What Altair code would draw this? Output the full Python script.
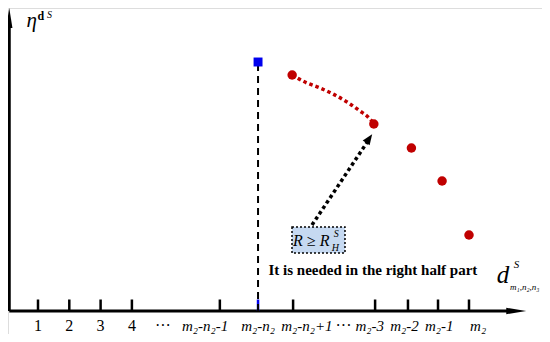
import altair as alt
import pandas as pd

# ---- data (in chart units) ----
tick_pos = [1, 2, 3, 4, 6.81, 8.03, 9.15, 11.77, 12.82, 13.78, 14.77]
tick_color = ["k", "k", "k", "k", "k", "b", "k", "k", "k", "k", "k"]

num_labels = ["1", "2", "3", "4", "···", "···"]
num_label_x = [1, 2, 3, 4, 4.99, 10.76]
m_labels = ["m₂-n₂-1", "m₂-n₂", "m₂-n₂+1", "m₂-3", "m₂-2", "m₂-1", "m₂"]
m_label_x = [6.34, 8.03, 9.59, 11.6, 12.71, 13.82, 15.06]
label_y = -2.0

blue_x = [8.03]
blue_y = [24.9]

red_x = [9.12, 11.73, 12.93, 13.91, 14.77]
red_y = [23.6, 18.7, 16.3, 13.0, 7.6]

curve_x = [9.115, 9.594, 10.010, 10.425, 10.872, 11.288, 11.543, 11.735]
curve_y = [23.6, 22.8, 22.3, 21.7, 20.9, 20.0, 19.4, 18.7]

arrow_x = [9.754, 11.52]
arrow_y = [8.6, 16.9]

box_x = [9.115, 10.808]
box_y = [8.4, 5.8]

note = "It is needed in the right half part"
note_xy = [11.70, 4.1]

XMIN, XMAX = 1 + (8 - 38) / 31.3, 1 + (542 - 38) / 31.3
YMIN, YMAX = -2.3, 30.3

xs = alt.Scale(domain=[XMIN, XMAX], nice=False, zero=False)
ys = alt.Scale(domain=[YMIN, YMAX], nice=False, zero=False)
X = lambda f="x": alt.X(f"{f}:Q", scale=xs, axis=None)
Y = lambda f="y": alt.Y(f"{f}:Q", scale=ys, axis=None)

SERIF = "Liberation Serif"
AX = XMIN + 0.04

# axes lines
axes_df = pd.DataFrame({
    "x": [AX, AX], "x2": [16.14, AX],
    "y": [0, 0], "y2": [0, 28.8],
})
axes = alt.Chart(axes_df).mark_rule(color="black", strokeWidth=3).encode(
    x=X(), x2="x2:Q", y=Y(), y2="y2:Q")

arrow_heads_df = pd.DataFrame({"x": [16.28, AX], "y": [0, 29.3], "a": [90, 0]})
heads = alt.Chart(arrow_heads_df).mark_point(
    shape="M-0.32,1L0,-1L0.32,1Z", filled=True, color="black", opacity=1, size=400
).encode(x=X(), y=Y(), angle=alt.Angle("a:Q", scale=None))

# ticks
ticks_df = pd.DataFrame({"x": tick_pos, "c": tick_color, "y": 0, "y2": 1.15})
ticks = alt.Chart(ticks_df).mark_rule(strokeWidth=2.5).encode(
    x=X(), y=Y(), y2="y2:Q",
    color=alt.Color("c:N", scale=alt.Scale(domain=["k", "b"], range=["black", "#0000EE"]), legend=None))

nl_df = pd.DataFrame({"x": num_label_x, "y": label_y, "t": num_labels})
nlab = alt.Chart(nl_df).mark_text(font=SERIF, fontSize=16, baseline="alphabetic", color="black").encode(
    x=X(), y=Y(), text="t:N")
ml_df = pd.DataFrame({"x": m_label_x, "y": label_y, "t": m_labels})
mlab = alt.Chart(ml_df).mark_text(font=SERIF, fontSize=15, fontStyle="italic", baseline="alphabetic", color="black").encode(
    x=X(), y=Y(), text="t:N")

# dashed vertical line
vline_df = pd.DataFrame({"x": blue_x, "y": [0], "y2": blue_y})
vline = alt.Chart(vline_df).mark_rule(color="black", strokeWidth=2, strokeDash=[7, 5]).encode(
    x=X(), y=Y(), y2="y2:Q")

blue_df = pd.DataFrame({"x": blue_x, "y": blue_y})
blue = alt.Chart(blue_df).mark_point(shape="square", filled=True, color="#0000EE", opacity=1, size=80).encode(
    x=X(), y=Y())

curve_df = pd.DataFrame({"x": curve_x, "y": curve_y, "o": range(len(curve_x))})
curve = alt.Chart(curve_df).mark_line(color="#C00000", strokeWidth=3.5, strokeDash=[3.5, 3], interpolate="monotone").encode(
    x=X(), y=Y(), order="o:Q")

red_df = pd.DataFrame({"x": red_x, "y": red_y})
red = alt.Chart(red_df).mark_circle(color="#C00000", opacity=1, size=90).encode(x=X(), y=Y())

arrow_df = pd.DataFrame({"x": [arrow_x[0]], "x2": [arrow_x[1]], "y": [arrow_y[0]], "y2": [arrow_y[1]]})
arrow = alt.Chart(arrow_df).mark_rule(color="black", strokeWidth=3.5, strokeDash=[3.5, 3]).encode(
    x=X(), x2="x2:Q", y=Y(), y2="y2:Q")
ahead_df = pd.DataFrame({"x": [11.58], "y": [17.25], "a": [35]})
ahead = alt.Chart(ahead_df).mark_point(
    shape="M-0.8,1L0,-1L0.8,1Z", filled=True, color="black", opacity=1, size=110
).encode(x=X(), y=Y(), angle=alt.Angle("a:Q", scale=None))

box_df = pd.DataFrame({"x": [box_x[0]], "x2": [box_x[1]], "y": [box_y[0]], "y2": [box_y[1]]})
box = alt.Chart(box_df).mark_rect(fill="#C6D9F1", stroke="black", strokeWidth=1.5, strokeDash=[2, 2]).encode(
    x=X(), x2="x2:Q", y=Y(), y2="y2:Q")

rtxt_df = pd.DataFrame({
    "x": [9.73, 10.53, 10.50],
    "y": [7.05, 7.75, 6.35],
    "t": ["R ≥ R", "S", "H"],
    "s": [16, 10, 10],
})
rtxt = alt.Chart(rtxt_df).mark_text(font=SERIF, fontStyle="italic", baseline="middle", color="black").encode(
    x=X(), y=Y(), text="t:N", size=alt.Size("s:Q", scale=None))

note_df = pd.DataFrame({"x": [note_xy[0]], "y": [note_xy[1]], "t": [note]})
note_m = alt.Chart(note_df).mark_text(font=SERIF, fontSize=15, fontWeight="bold", baseline="middle", color="black").encode(
    x=X(), y=Y(), text="t:N")

# axis titles
yt_df = pd.DataFrame({
    "x": [0.80, 1.09, 1.37],
    "y": [28.4, 29.1, 29.3],
    "t": ["η", "d", "S"],
    "s": [21, 12, 10],
    "st": ["italic", "normal", "italic"],
})
ytitle_i = alt.Chart(yt_df[yt_df.st == "italic"]).mark_text(font=SERIF, fontStyle="italic", baseline="alphabetic", color="black").encode(
    x=X(), y=Y(), text="t:N", size=alt.Size("s:Q", scale=None))
ytitle_b = alt.Chart(yt_df[yt_df.st == "normal"]).mark_text(font=SERIF, fontWeight="bold", baseline="alphabetic", color="black").encode(
    x=X(), y=Y(), text="t:N", size=alt.Size("s:Q", scale=None))

xt_df = pd.DataFrame({
    "x": [15.86, 16.29, 16.55],
    "y": [2.8, 4.3, 2.1],
    "t": ["d", "S", "m₁,n₂,n₃"],
    "s": [25, 11, 9],
})
xtitle = alt.Chart(xt_df).mark_text(font=SERIF, fontStyle="italic", baseline="alphabetic", color="black").encode(
    x=X(), y=Y(), text="t:N", size=alt.Size("s:Q", scale=None))

chart = alt.layer(
    axes, heads, ticks, nlab, mlab, vline, blue, curve, red, arrow, ahead, box, rtxt, note_m,
    ytitle_i, ytitle_b, xtitle
).properties(
    width=534, height=326, padding=0, autosize=alt.AutoSizeParams(type="none")
).configure_view(stroke=None).configure(background="white")

chart.save("out.html", embed_options={"renderer": "svg", "actions": False})
